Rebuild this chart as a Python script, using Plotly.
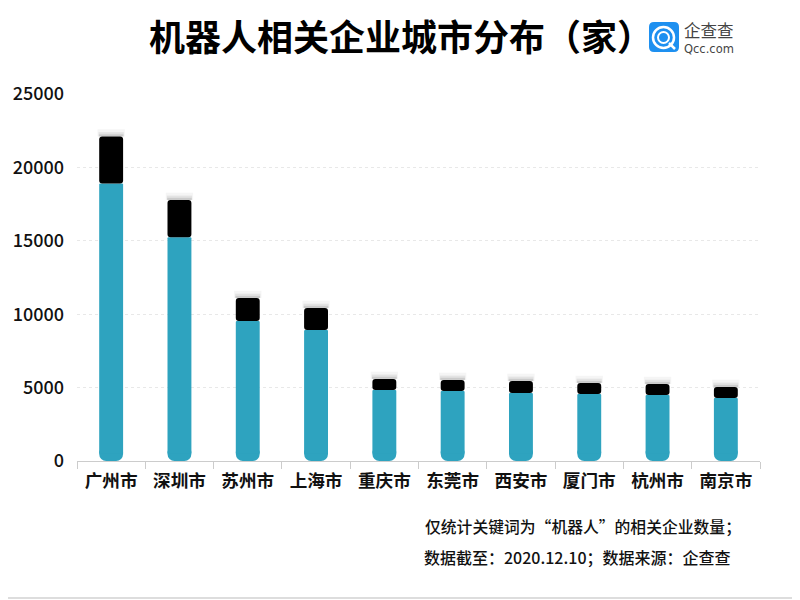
import plotly.graph_objects as go

cities = ["广州市", "深圳市", "苏州市", "上海市", "重庆市", "东莞市", "西安市", "厦门市", "杭州市", "南京市"]
teal_values = [18900, 15250, 9530, 8920, 4830, 4770, 4630, 4560, 4490, 4290]
black_values = [3200, 2530, 1570, 1500, 760, 750, 820, 750, 750, 750]
y_ticks = [0, 5000, 10000, 15000, 20000, 25000]
shadow_pad = [500] * len(cities)

CJK = "Noto Sans CJK SC"
OFF = 8  # the page shifts the figure by this much
L, R, T, B = 77 - OFF, 760 - OFF, 94 - OFF, 461 - OFF
FOOT = 1000  # height of the rounded foot piece of each teal bar


def px(x):
    return (x - L - OFF) / (R - L)


def py(y):
    return 1 - (y - T - OFF) / (B - T)


def note(text, x, y, size, color="#111111", family=CJK, weight=500):
    return dict(text=text, xref="paper", yref="paper", x=px(x), y=py(y), xanchor="left", yanchor="middle",
                showarrow=False, font=dict(size=size, family=family, color=color, weight=weight))


def round_rect(x0, y0, x1, y1, r):
    a0, a1, b0, b1 = px(x0), px(x1), py(y0), py(y1)
    rx, ry = r / (R - L), r / (B - T)
    return (f"M{a0 + rx},{b0} L{a1 - rx},{b0} Q{a1},{b0} {a1},{b0 - ry} L{a1},{b1 + ry} Q{a1},{b1} {a1 - rx},{b1} "
            f"L{a0 + rx},{b1} Q{a0},{b1} {a0},{b1 + ry} L{a0},{b0 - ry} Q{a0},{b0} {a0 + rx},{b0} Z")


totals = [t + b for t, b in zip(teal_values, black_values)]
n = len(cities)
fig = go.Figure()

for width, alpha, pad in [(0.40, 0.04, 1.0), (0.37, 0.07, 0.6), (0.36, 0.10, 0.3)]:
    fig.add_trace(go.Bar(x=cities, y=[p * pad for p in shadow_pad], base=totals, width=width,
                         marker=dict(color=f"rgba(0,0,0,{alpha})", line_width=0), hoverinfo="skip"))

# short rounded foot, then a flat-topped shaft from halfway up the foot to the teal value
fig.add_trace(go.Bar(x=cities, y=[FOOT] * n, base=[0] * n, width=0.35,
                     marker=dict(color="#2EA3BF", line_width=0, cornerradius=7), hoverinfo="skip"))
fig.add_trace(go.Bar(x=cities, y=[v - FOOT / 2 for v in teal_values], base=[FOOT / 2] * n, width=0.35,
                     marker=dict(color="#2EA3BF", line_width=0, cornerradius=1), customdata=teal_values,
                     hovertemplate="%{x}: %{customdata}<extra></extra>"))
fig.add_trace(go.Bar(x=cities, y=black_values, base=teal_values, width=0.35,
                     marker=dict(color="#000000", line_width=0, cornerradius=3)))

fig.update_layout(
    width=800, height=600, autosize=False,
    margin=dict(l=L, r=800 - R, t=T, b=600 - B, autoexpand=False),
    plot_bgcolor="white", paper_bgcolor="white",
    barmode="overlay", showlegend=False,
    font=dict(family=CJK, color="#111111"),
    title=dict(text="<b>机器人相关企业城市分布（家）</b>", x=(401 - OFF) / 800, xanchor="center",
               y=1 - (38 - OFF) / 600, yanchor="middle", font=dict(size=36, family=CJK, color="#000000")),
    xaxis=dict(type="category", tickson="boundaries", ticks="outside", ticklen=7, tickcolor="#CCCCCC",
               tickwidth=1, showline=True, linecolor="#CCCCCC", linewidth=1, showgrid=False, automargin=False,
               ticklabelstandoff=4,
               tickfont=dict(size=17.6, family=CJK, color="#111111", weight=600)),
    yaxis=dict(range=[0, 25000], tickvals=y_ticks, ticktext=[str(v) for v in y_ticks], automargin=False,
               showgrid=True, gridcolor="#E8E8E8", griddash="dot", gridwidth=1, zeroline=False,
               showline=False, ticks="", ticklabelstandoff=12,
               tickfont=dict(size=18, family=CJK, color="#111111", weight=500)),
    annotations=[
        note("仅统计关键词为“机器人”的相关企业数量；", 423, 526, 15.8),
        note("数据截至：2020.12.10；数据来源：企查查", 422, 557, 16),
        note("企查查", 682, 30.5, 16.5, color="#444444", weight=400),
        note("Qcc.com", 682, 49, 11.5, color="#444444", family="DejaVu Sans", weight=400),
    ],
    shapes=[
        dict(type="line", xref="paper", yref="paper", layer="above",
             x0=px(8), x1=px(798), y0=py(598), y1=py(598), line=dict(color="#DDDDDD", width=2)),
        dict(type="line", xref="paper", yref="paper", layer="above",
             x0=px(798), x1=px(798), y0=py(598), y1=py(8), line=dict(color="#DDDDDD", width=2)),
        dict(type="path", xref="paper", yref="paper", layer="above", path=round_rect(649, 22, 679, 52, 5),
             fillcolor="#1E90F0", line=dict(width=0)),
        dict(type="circle", xref="paper", yref="paper", layer="above",
             x0=px(653), x1=px(674), y0=py(48), y1=py(27),
             fillcolor="rgba(0,0,0,0)", line=dict(color="white", width=2.5)),
        dict(type="circle", xref="paper", yref="paper", layer="above",
             x0=px(658), x1=px(669), y0=py(43), y1=py(32),
             fillcolor="rgba(0,0,0,0)", line=dict(color="white", width=2)),
        dict(type="line", xref="paper", yref="paper", layer="above",
             x0=px(669), x1=px(675), y0=py(43), y1=py(49), line=dict(color="white", width=2.5)),
    ],
)
fig.write_html("out.html")
